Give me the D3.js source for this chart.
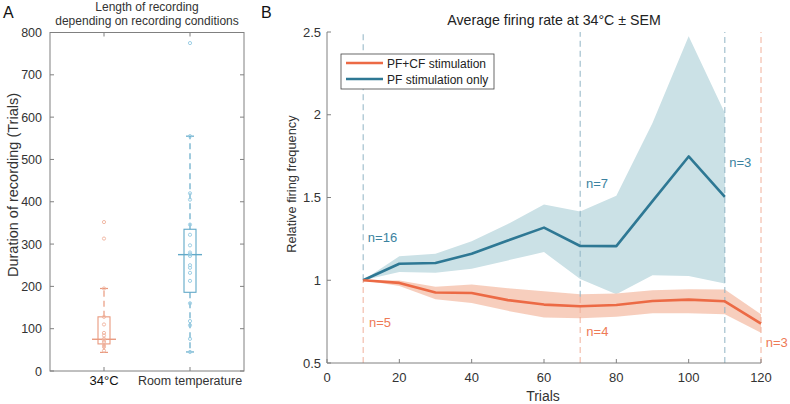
<!DOCTYPE html>
<html><head><meta charset="utf-8">
<script src="https://cdn.jsdelivr.net/npm/d3@7"></script>
<style>
html,body{margin:0;padding:0;background:#fff;}
svg{font-family:"Liberation Sans",Arial,sans-serif;display:block;}
</style></head>
<body><svg id="c" width="790" height="404"></svg>
<script>
// ---------- Panel A data ----------
const groupsA = ["34°C", "Room temperature"];
const boxHot  = {q1: 64, med: 75, q3: 128, lo: 44, hi: 195};
const boxRoom = {q1: 186, med: 275, q3: 335, lo: 45, hi: 555};
const pointsHot  = [352, 313, 195, 128, 110, 90, 84, 76, 72, 68, 62, 57, 48];
const pointsRoom = [775, 555, 420, 405, 346, 322, 297, 280, 276, 272, 250, 244, 232, 213, 160, 118, 108, 76, 45];
const ticksA = [0, 100, 200, 300, 400, 500, 600, 700, 800];

// ---------- Panel B data ----------
const trialsPF = [10, 20, 30, 40, 50, 60, 70, 80, 90, 100, 110];
const meanPF   = [1.0, 1.10, 1.104, 1.16, 1.24, 1.318, 1.207, 1.206, 1.478, 1.748, 1.504];
const upperPF  = [1.0, 1.145, 1.16, 1.235, 1.34, 1.458, 1.415, 1.51, 1.95, 2.475, 2.01];
const lowerPF  = [1.0, 1.05, 1.046, 1.07, 1.12, 1.17, 1.008, 0.915, 1.03, 1.025, 0.98];
const trialsCF = [10, 20, 30, 40, 50, 60, 70, 80, 90, 100, 110, 120];
const meanCF   = [1.0, 0.984, 0.926, 0.923, 0.88, 0.853, 0.843, 0.85, 0.875, 0.883, 0.873, 0.738];
const upperCF  = [1.0, 0.998, 0.96, 0.975, 0.952, 0.934, 0.915, 0.92, 0.94, 0.946, 0.944, 0.795];
const lowerCF  = [1.0, 0.965, 0.885, 0.863, 0.815, 0.775, 0.77, 0.78, 0.80, 0.80, 0.795, 0.683];
const seriesNames = ["PF+CF stimulation", "PF stimulation only"];
const xTicksB = [0, 20, 40, 60, 80, 100, 120];
const yTicksB = [0.5, 1, 1.5, 2, 2.5];
// vertical markers: [trial, from, to]
const markersPF = [[10, 1.0, 2.5], [70, 0.9, 2.5], [110, 0.5, 2.5]];
const markersCF = [[10, 0.5, 1.0], [70, 0.5, 0.9], [120, 0.5, 2.5]];
const labelsPF = [["n=16", 11.3, 1.26], ["n=7", 71.6, 1.584], ["n=3", 111.2, 1.714]];
const labelsCF = [["n=5", 11.6, 0.744], ["n=4", 71.7, 0.69], ["n=3", 121.3, 0.624]];

const svg = d3.select("#c");
const axisCol = "#808080", textCol = "#333";
const orange = "#ec6a45", blue = "#2e7894";
const orangeBand = "#f7cbb9", blueBand = "#cbe1e6";
const orangeLight = "#e99a7f", blueLight = "#62a9c8";

// Panel labels
svg.append("text").attr("x", 3).attr("y", 18).attr("font-size", 16).attr("fill", "#111").text("A");
svg.append("text").attr("x", 261).attr("y", 18).attr("font-size", 16).attr("fill", "#111").text("B");

// ===== Panel A =====
const A = {l: 50, r: 244, t: 32.5, b: 371};
const xA = d3.scalePoint().domain(groupsA).range([104, 190]);
const yA = d3.scaleLinear().domain([0, 800]).range([A.b, A.t]);
const gA = svg.append("g");
gA.append("text").attr("x", 147).attr("y", 11).attr("text-anchor", "middle").attr("font-size", 12).attr("fill", textCol).text("Length of recording");
gA.append("text").attr("x", 147).attr("y", 25).attr("text-anchor", "middle").attr("font-size", 12).attr("fill", textCol).text("depending on recording conditions");

gA.append("rect").attr("x", A.l).attr("y", A.t).attr("width", A.r - A.l).attr("height", A.b - A.t)
  .attr("fill", "none").attr("stroke", axisCol).attr("stroke-width", 1);
ticksA.forEach(v => {
  const y = yA(v);
  gA.append("line").attr("x1", A.l).attr("x2", A.l + 4).attr("y1", y).attr("y2", y).attr("stroke", axisCol);
  gA.append("line").attr("x1", A.r).attr("x2", A.r - 4).attr("y1", y).attr("y2", y).attr("stroke", axisCol);
  gA.append("text").attr("x", A.l - 8).attr("y", y + 4.5).attr("text-anchor", "end").attr("font-size", 12.5).attr("fill", textCol).text(v);
});
groupsA.forEach((g, i) => {
  const x = xA(g);
  gA.append("line").attr("x1", x).attr("x2", x).attr("y1", A.b).attr("y2", A.b - 4).attr("stroke", axisCol);
  gA.append("line").attr("x1", x).attr("x2", x).attr("y1", A.t).attr("y2", A.t + 4).attr("stroke", axisCol);
  gA.append("text").attr("x", x).attr("y", 385).attr("text-anchor", "middle")
    .attr("font-size", i === 0 ? 13 : 12.5).attr("fill", i === 0 ? "#111" : textCol).text(g);
});
gA.append("text").attr("transform", "translate(18,185) rotate(-90)").attr("text-anchor", "middle")
  .attr("font-size", 14.5).attr("fill", textCol).text("Duration of recording (Trials)");

function drawBox(box, pts, name, col, ptCol) {
  const x = xA(name), hw = 6;
  const g = gA.append("g");
  g.append("line").attr("x1", x).attr("x2", x).attr("y1", yA(box.q3)).attr("y2", yA(box.hi))
    .attr("stroke", col).attr("stroke-width", 1.2).attr("stroke-dasharray", "6,4");
  g.append("line").attr("x1", x).attr("x2", x).attr("y1", yA(box.q1)).attr("y2", yA(box.lo))
    .attr("stroke", col).attr("stroke-width", 1.2).attr("stroke-dasharray", "6,4");
  [box.hi, box.lo].forEach(v => g.append("line").attr("x1", x - 4).attr("x2", x + 4)
    .attr("y1", yA(v)).attr("y2", yA(v)).attr("stroke", col).attr("stroke-width", 1.2));
  g.append("rect").attr("x", x - hw).attr("y", yA(box.q3)).attr("width", 2 * hw)
    .attr("height", yA(box.q1) - yA(box.q3)).attr("fill", "none").attr("stroke", col).attr("stroke-width", 1.1);
  g.append("line").attr("x1", x - 12).attr("x2", x + 12).attr("y1", yA(box.med)).attr("y2", yA(box.med))
    .attr("stroke", col).attr("stroke-width", 1.4);
  g.selectAll("circle").data(pts).join("circle").attr("cx", x).attr("cy", d => yA(d)).attr("r", 1.6)
    .attr("fill", "none").attr("stroke", ptCol).attr("stroke-width", 0.9);
}
drawBox(boxHot, pointsHot, groupsA[0], orangeLight, "#efb29d");
drawBox(boxRoom, pointsRoom, groupsA[1], blueLight, "#92c9e2");

// ===== Panel B =====
const B = {l: 327, r: 761, t: 32, b: 363};
const xB = d3.scaleLinear().domain([0, 120]).range([B.l, B.r]);
const yB = d3.scaleLinear().domain([0.5, 2.5]).range([B.b, B.t]);
const gB = svg.append("g");
gB.append("text").attr("x", 554).attr("y", 25).attr("text-anchor", "middle").attr("font-size", 14.2).attr("fill", "#222")
  .text("Average firing rate at 34°C ± SEM");

const area = (tr, lo, hi) => d3.area().x((d, i) => xB(tr[i])).y0((d, i) => yB(lo[i])).y1((d, i) => yB(hi[i]))(tr);
const line = (tr, m) => d3.line().x((d, i) => xB(tr[i])).y((d, i) => yB(m[i]))(tr);

gB.append("path").attr("d", area(trialsPF, lowerPF, upperPF)).attr("fill", blueBand);
gB.append("path").attr("d", area(trialsCF, lowerCF, upperCF)).attr("fill", orangeBand).attr("fill-opacity", 0.95);

markersPF.forEach(m => gB.append("line").attr("x1", xB(m[0])).attr("x2", xB(m[0])).attr("y1", yB(m[1])).attr("y2", yB(m[2]))
  .attr("stroke", "#8fb3c4").attr("stroke-width", 1).attr("stroke-dasharray", "6,4"));
markersCF.forEach(m => gB.append("line").attr("x1", xB(m[0])).attr("x2", xB(m[0])).attr("y1", yB(m[1])).attr("y2", yB(m[2]))
  .attr("stroke", "#f0b09b").attr("stroke-width", 1).attr("stroke-dasharray", "6,4"));

gB.append("path").attr("d", line(trialsPF, meanPF)).attr("fill", "none").attr("stroke", blue).attr("stroke-width", 2.6).attr("stroke-linejoin", "round");
gB.append("path").attr("d", line(trialsCF, meanCF)).attr("fill", "none").attr("stroke", orange).attr("stroke-width", 2.6).attr("stroke-linejoin", "round");

labelsPF.forEach(l => gB.append("text").attr("x", xB(l[1])).attr("y", yB(l[2]) + 4.5).attr("font-size", 13).attr("fill", "#3b82a0").text(l[0]));
labelsCF.forEach(l => gB.append("text").attr("x", xB(l[1])).attr("y", yB(l[2]) + 4.5).attr("font-size", 13).attr("fill", "#ee7a56").text(l[0]));

gB.append("line").attr("x1", B.l).attr("x2", B.l).attr("y1", B.t).attr("y2", B.b).attr("stroke", axisCol);
gB.append("line").attr("x1", B.l).attr("x2", B.r).attr("y1", B.b).attr("y2", B.b).attr("stroke", axisCol);
yTicksB.forEach(v => {
  gB.append("line").attr("x1", B.l).attr("x2", B.l + 4).attr("y1", yB(v)).attr("y2", yB(v)).attr("stroke", axisCol);
  gB.append("text").attr("x", B.l - 6).attr("y", yB(v) + 4.5).attr("text-anchor", "end").attr("font-size", 13).attr("fill", textCol).text(v);
});
xTicksB.forEach(v => {
  gB.append("line").attr("x1", xB(v)).attr("x2", xB(v)).attr("y1", B.b).attr("y2", B.b - 4).attr("stroke", axisCol);
  gB.append("text").attr("x", xB(v)).attr("y", 382).attr("text-anchor", "middle").attr("font-size", 13).attr("fill", textCol).text(v);
});
gB.append("text").attr("x", 543).attr("y", 401).attr("text-anchor", "middle").attr("font-size", 14).attr("fill", textCol).text("Trials");
gB.append("text").attr("transform", "translate(296,184) rotate(-90)").attr("text-anchor", "middle")
  .attr("font-size", 12.8).attr("fill", textCol).text("Relative firing frequency");

// legend
const lg = gB.append("g");
lg.append("rect").attr("x", 341).attr("y", 54).attr("width", 153).attr("height", 35).attr("fill", "#fff").attr("stroke", "#444").attr("stroke-width", 0.8);
[[orange, 63], [blue, 79]].forEach((c, i) => {
  lg.append("line").attr("x1", 346).attr("x2", 383).attr("y1", c[1]).attr("y2", c[1]).attr("stroke", c[0]).attr("stroke-width", 2.4);
  lg.append("text").attr("x", 387).attr("y", c[1] + 4.5).attr("font-size", 12).attr("fill", "#222").text(seriesNames[i]);
});
</script></body></html>
